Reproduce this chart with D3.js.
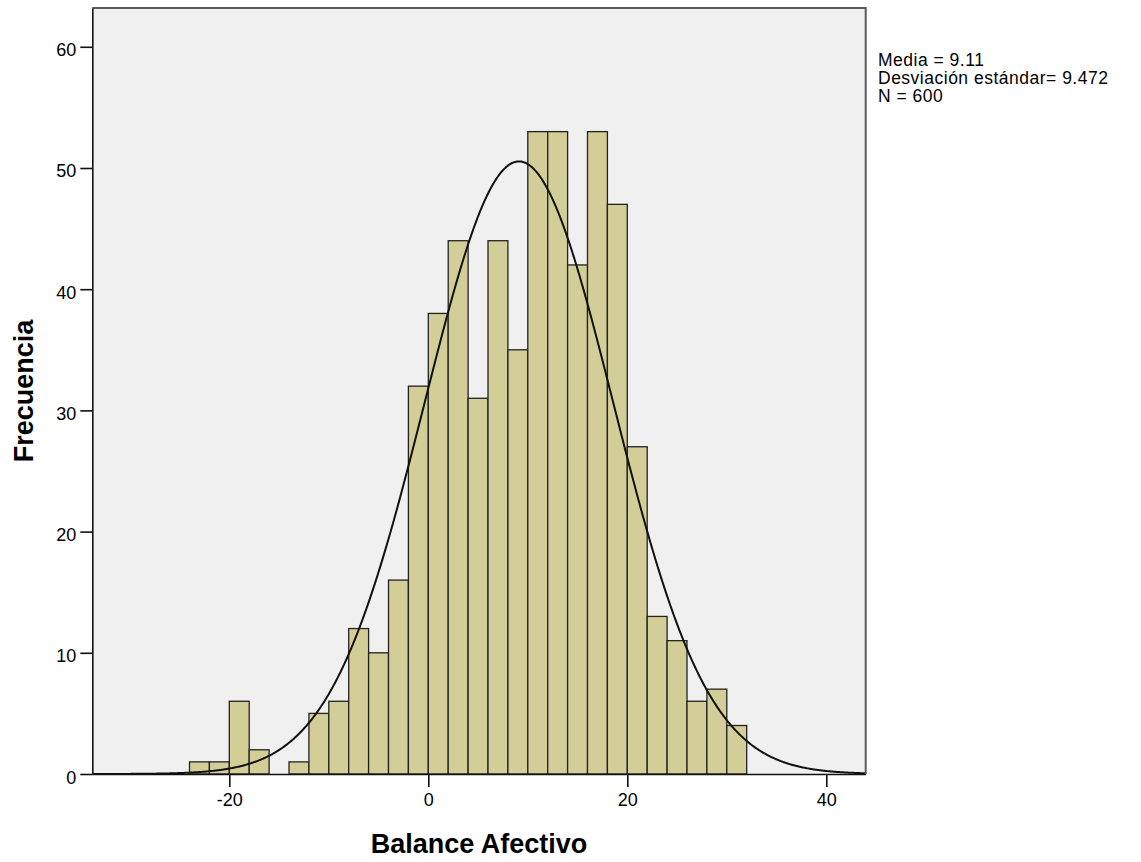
<!DOCTYPE html>
<html>
<head>
<meta charset="utf-8">
<script src="https://cdn.jsdelivr.net/npm/d3@7"></script>
<style>
  html, body { margin: 0; padding: 0; background: #ffffff; }
  svg { display: block; }
  text { font-family: "Liberation Sans", Arial, sans-serif; fill: #000; }
</style>
</head>
<body>
<svg id="chart" width="1141" height="862"></svg>
<script>
// ---- data ----
const binStarts = [-24, -22, -20, -18, -16, -14, -12, -10, -8, -6, -4, -2, 0, 2, 4, 6, 8, 10, 12, 14, 16, 18, 20, 22, 24, 26, 28, 30];
const binCounts = [1, 1, 6, 2, 0, 1, 5, 6, 12, 10, 16, 32, 38, 44, 31, 44, 35, 53, 53, 42, 53, 47, 27, 13, 11, 6, 7, 4];
const binWidth = 2;
const xTicks = [-20, 0, 20, 40];
const yTicks = [0, 10, 20, 30, 40, 50, 60];
const statMean = 9.11;
const statSD = 9.472;
const statN = 600;
const legendLines = ["Media = 9.11", "Desviación estándar= 9.472", "N = 600"];
const xTitle = "Balance Afectivo";
const yTitle = "Frecuencia";

// ---- layout ----
const pLeft = 92.3, pRight = 865.7, pTop = 8, pBottom = 774;
const svg = d3.select("#chart");

const x = d3.scaleLinear().domain([-33.77, 43.96]).range([pLeft, pRight]);
const y = d3.scaleLinear().domain([0, 63.2]).range([pBottom, pTop]);

// plot background
svg.append("rect")
  .attr("x", pLeft).attr("y", pTop)
  .attr("width", pRight - pLeft).attr("height", pBottom - pTop)
  .attr("fill", "#f0f0f0");

// bars
svg.append("g").selectAll("rect")
  .data(binStarts.map((s, i) => ({ s, c: binCounts[i] })).filter(d => d.c > 0))
  .join("rect")
  .attr("x", d => x(d.s))
  .attr("y", d => y(d.c))
  .attr("width", d => x(d.s + binWidth) - x(d.s))
  .attr("height", d => y(0) - y(d.c))
  .attr("fill", "#d3ce97")
  .attr("stroke", "#222")
  .attr("stroke-width", 1.3);

// normal curve (fit line defined by mean, sd, N)
const pdf = v => statN * binWidth / (statSD * Math.sqrt(2 * Math.PI)) *
  Math.exp(-0.5 * Math.pow((v - statMean) / statSD, 2));
const xs = d3.range(x.domain()[0], x.domain()[1] + 0.001, 0.1);
svg.append("path")
  .datum(xs)
  .attr("fill", "none")
  .attr("stroke", "#111")
  .attr("stroke-width", 2)
  .attr("d", d3.line().x(v => x(v)).y(v => y(pdf(v))));

// frame top/right
svg.append("path")
  .attr("d", `M${pLeft},${pTop}H${pRight}V${pBottom}`)
  .attr("fill", "none")
  .attr("stroke", "#5a5a5a")
  .attr("stroke-width", 2);

// axes
const fmt = d => String(d);
const yAxis = d3.axisLeft(y).tickValues(yTicks).tickFormat(fmt).tickSize(12).tickPadding(4).tickSizeOuter(0);
const gy = svg.append("g").attr("transform", `translate(${pLeft},0)`).call(yAxis);
gy.select(".domain").attr("stroke", "#111").attr("stroke-width", 1.6);
gy.selectAll(".tick line").attr("stroke", "#111").attr("stroke-width", 1.6);
gy.selectAll(".tick text").attr("font-size", 18).attr("dy", "0.5em")
  .attr("font-family", "Liberation Sans, Arial, sans-serif").attr("fill", "#111");

const xAxis = d3.axisBottom(x).tickValues(xTicks).tickFormat(fmt).tickSize(13).tickPadding(6).tickSizeOuter(0);
const gx = svg.append("g").attr("transform", `translate(0,${pBottom})`).call(xAxis);
gx.select(".domain").attr("stroke", "#111").attr("stroke-width", 1.6);
gx.selectAll(".tick line").attr("stroke", "#111").attr("stroke-width", 1.6);
gx.selectAll(".tick text").attr("font-size", 18)
  .attr("font-family", "Liberation Sans, Arial, sans-serif").attr("fill", "#111");

// axis titles
svg.append("text")
  .attr("x", (pLeft + pRight) / 2).attr("y", 853)
  .attr("text-anchor", "middle")
  .attr("font-size", 27).attr("font-weight", "bold")
  .text(xTitle);

svg.append("text")
  .attr("transform", `translate(33,${(pTop + pBottom) / 2}) rotate(-90)`)
  .attr("text-anchor", "middle")
  .attr("font-size", 27).attr("font-weight", "bold")
  .text(yTitle);

// legend / stats
svg.append("g").selectAll("text")
  .data(legendLines)
  .join("text")
  .attr("x", 878)
  .attr("y", (d, i) => 66 + i * 18)
  .attr("font-size", 17.5)
  .attr("letter-spacing", "0.5px")
  .attr("fill", "#111")
  .text(d => d);
</script>
</body>
</html>
